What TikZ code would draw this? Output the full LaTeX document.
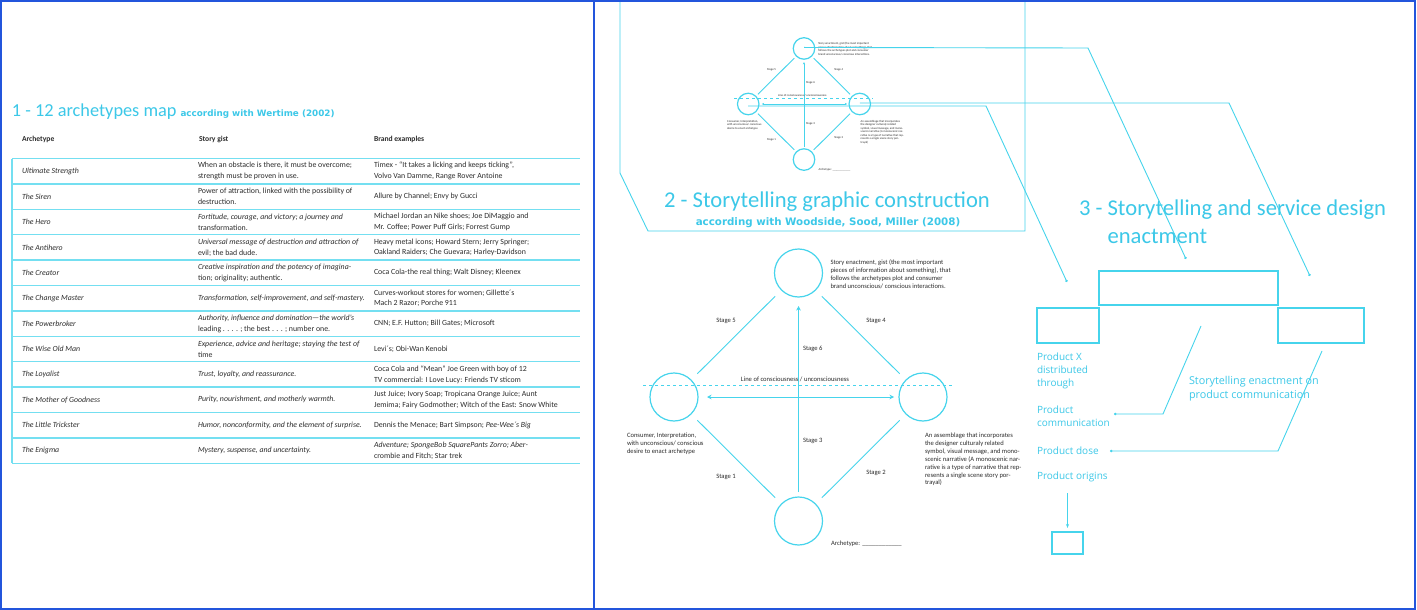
\documentclass[tikz,border=0pt]{standalone}
\usepackage{fontspec}
\setmainfont{Carlito}
\newfontfamily\titlefont{Carlito}
\newfontfamily\boldfont{DejaVu Sans}
\newfontfamily\prodfont{Open Sans}
\usetikzlibrary{arrows.meta,calc}
\definecolor{cy}{RGB}{70,212,236}
\definecolor{tcy}{RGB}{60,200,232}
\definecolor{frameblue}{RGB}{35,85,220}
\definecolor{ink}{RGB}{45,45,45}
\tikzset{
  every node/.style={inner sep=0pt, outer sep=0pt},
  tline/.style={draw=cy!75, line width=1.3pt},
  cline/.style={draw=cy, line width=0.9pt},
  circ/.style={circle, draw=cy, line width=1.2pt, minimum size=48pt},
  boxst/.style={draw=cy, line width=1.2pt, rectangle},
  cell/.style={font=\fontsize{7.85}{10.8}\selectfont, text=ink, align=left},
  hdr/.style={font=\bfseries\fontsize{7.6}{9}\selectfont, text=ink},
  lab/.style={font=\fontsize{6.6}{7.9}\selectfont, text=ink},
  ttl/.style={font=\titlefont\fontsize{22.6}{28}\selectfont, text=tcy},
  sub/.style={font=\boldfont\bfseries, text=tcy},
  prod/.style={font=\prodfont\fontsize{10}{13}\selectfont, text=tcy, align=left},
  dotend/.style={-{Circle[length=2.4pt]}},
}
\newcommand\trow[6]{%
  \node[cell, anchor=west] (a#1) at (22,#2) {\itshape #3};
  \node[cell, anchor=west] (g#1) at (198,#2) {#6#4};
  \node[cell, anchor=west] (b#1) at (374,#2) {#5};
}
\newcommand\stdiag[4]{%
  \node[circ] (#1t) at (0,-124) {};
  \node[circ] (#1b) at (0,124) {};
  \node[circ] (#1l) at (-124.5,0) {};
  \node[circ] (#1r) at (124.5,0) {};
  \coordinate (#1da) at (-155.5,-12);
  \coordinate (#1db) at (154.5,-12);
  \draw[cline, dash pattern=on 3pt off 3pt] (#1da) -- (#1db);
  \draw[cline, shorten <=#2, shorten >=#2] (#1l) -- (#1t);
  \draw[cline, shorten <=#2, shorten >=#2] (#1r) -- (#1t);
  \draw[cline, shorten <=#2, shorten >=#2] (#1b) -- (#1l);
  \draw[cline, shorten <=#2, shorten >=#2] (#1b) -- (#1r);
  \draw[cline, -{Stealth[length=#3,width=#3]}, shorten <=#4, shorten >=#2] (#1b) -- (#1t);
  \draw[cline, {Stealth[length=#3,width=#3]}-{Stealth[length=#3,width=#3]}, shorten <=#2, shorten >=#4] (#1l) -- (#1r);
  \node[lab] (#1s5) at (-72.5,-76) {Stage 5};
  \node[lab] (#1s4) at (77.5,-76) {Stage 4};
  \node[lab, anchor=west] (#1s6) at (4.5,-48) {Stage 6};
  \node[lab, anchor=west] (#1s3) at (4.5,44) {Stage 3};
  \node[lab] (#1s1) at (-72.5,80) {Stage 1};
  \node[lab] (#1s2) at (77.5,76) {Stage 2};
  \node[lab] (#1lc) at (-3.5,-18) {Line of consciousness / unconsciousness};
  \node[lab, anchor=north west, align=left] (#1tt) at (32,-137.5) {Story enactment, gist (the most important\\pieces of information about something), that\\follows the archetypes plot and consumer\\brand unconscious/ conscious interactions.};
  \node[lab, anchor=north west, align=left] (#1lt) at (-171.5,36) {Consumer, Interpretation,\\with unconscious/ conscious\\desire to enact archetype};
  \node[lab, anchor=north west, align=left] (#1rt) at (126.5,36) {An assemblage that incorporates\\the designer culturaly related\\symbol, visual message, and mono-\\scenic narrative (A monoscenic nar-\\rative is a type of narrative that rep-\\resents a single scene story por-\\trayal)};
  \node[lab, anchor=west] (#1ar) at (32.5,147) {Archetype: \_\_\_\_\_\_\_\_\_\_\_\_};
}
\begin{document}
\begin{tikzpicture}[x=1pt,y=-1pt]
\useasboundingbox (0,0) rectangle (1417,610);
\fill[white] (0,0) rectangle (1417,610);

% ---------- Panel 1 ----------
\node[ttl, font=\titlefont\fontsize{18.3}{22}\selectfont, anchor=base west] (t1) at (12,117) {1 - 12 archetypes map};
\node[sub, font=\boldfont\bfseries\fontsize{8.8}{10}\selectfont, anchor=base west] (t1b) at ([xshift=4pt]t1.base east) {according with Wertime (2002)};

\node[hdr, anchor=west] (h1) at (22,139) {Archetype};
\node[hdr, anchor=west] (h2) at (199,139) {Story gist};
\node[hdr, anchor=west] (h3) at (374,139) {Brand examples};

\foreach \k in {0,...,12} {\draw[tline] (12,{158.5+\k*25.4}) -- (580,{158.5+\k*25.4});}
\draw[tline] (12,158.5) -- (12,463.3);

\trow{1}{171.2}{Ultimate Strength}{When an obstacle is there, it must be overcome;\\strength must be proven in use.}{Timex - “It takes a licking and keeps ticking”,\\Volvo Van Damme, Range Rover Antoine}{}
\trow{2}{196.6}{The Siren}{Power of attraction, linked with the possibility of\\destruction.}{Allure by Channel; Envy by Gucci}{}
\trow{3}{222.0}{The Hero}{Fortitude, courage, and victory; a journey and\\transformation.}{Michael Jordan an Nike shoes; Joe DiMaggio and\\Mr. Coffee; Power Puff Girls; Forrest Gump}{\itshape}
\trow{4}{247.4}{The Antihero}{Universal message of destruction and attraction of\\evil; the bad dude.}{Heavy metal icons; Howard Stern; Jerry Springer;\\Oakland Raiders; Che Guevara; Harley-Davidson}{\itshape}
\trow{5}{272.8}{The Creator}{Creative inspiration and the potency of imagina-\\tion; originality; authentic.}{Coca Cola-the real thing; Walt Disney; Kleenex}{\itshape}
\trow{6}{298.2}{The Change Master}{Transformation, self-improvement, and self-mastery.}{Curves-workout stores for women; Gillette´s\\Mach 2 Razor; Porche 911}{\itshape}
\trow{7}{323.6}{The Powerbroker}{Authority, influence and domination—the world's\\leading . . . . ; the best . . . ; number one.}{CNN; E.F. Hutton; Bill Gates; Microsoft}{\itshape}
\trow{8}{349.0}{The Wise Old Man}{Experience, advice and heritage; staying the test of\\time}{Levi´s; Obi-Wan Kenobi}{\itshape}
\trow{9}{374.4}{The Loyalist}{Trust, loyalty, and reassurance.}{Coca Cola and “Mean” Joe Green with boy of 12\\TV commercial: I Love Lucy: Friends TV sticom}{\itshape}
\trow{10}{399.8}{The Mother of Goodness}{Purity, nourishment, and motherly warmth.}{Just Juice; Ivory Soap; Tropicana Orange Juice; Aunt\\Jemima; Fairy Godmother; Witch of the East: Snow White}{\itshape}
\trow{11}{425.2}{The Little Trickster}{Humor, nonconformity, and the element of surprise.}{Dennis the Menace; Bart Simpson; \emph{Pee-Wee´s Big}}{\itshape}
\trow{12}{450.6}{The Enigma}{Mystery, suspense, and uncertainty.}{\itshape Adventure; SpongeBob SquarePants Zorro; Aber-\\\upshape crombie and Fitch; Star trek}{\itshape}

% ---------- Panel 2 ----------
\draw[cline] (620,2) -- (620,173) -- (648,231) -- (1025,231) -- (1025,2);

\begin{scope}[shift={(804,104)}, scale=0.448, transform shape]
  \stdiag{s}{3pt}{2.2pt}{2pt}
\end{scope}
\begin{scope}[shift={(798.5,397)}]
  \stdiag{m}{9pt}{4.5pt}{5pt}
\end{scope}

\node[ttl, anchor=base] (t2) at (827,207) {2 - Storytelling graphic construction};
\node[sub, font=\boldfont\bfseries\fontsize{10.3}{11}\selectfont, anchor=base] (t2b) at (828,225) {according with Woodside, Sood, Miller (2008)};

% ---------- Panel 3 ----------
\node[ttl, anchor=base west, align=left] (t3) at (1079,243) {3 - Storytelling and service design\\\phantom{3 - }enactment};

\node[boxst, minimum width=179pt, minimum height=34pt] (bigbox) at (1188.5,288) {};
\node[boxst, minimum width=62pt, minimum height=35pt] (lbox) at (1068,325.5) {};
\node[boxst, minimum width=86pt, minimum height=35pt] (rbox) at (1321,325.5) {};
\node[boxst, minimum width=31pt, minimum height=22pt] (sbox) at (1067.5,543) {};

\node[prod, anchor=north west] (px) at (1037,352.5) {Product X\\distributed\\through};
\node[prod, anchor=north west] (pc) at (1037,405.5) {Product\\communication};
\node[prod, anchor=west] (pd) at (1037,451) {Product dose};
\node[prod, anchor=west] (po) at (1037,477) {Product origins};
\node[prod, font=\prodfont\fontsize{10.8}{14}\selectfont, anchor=north west] (se) at (1189,376) {Storytelling enactment on\\product communication};

% connectors from the small diagram
\coordinate (k1a) at (1088,48);
\coordinate (k1b) at (1186,259);
\coordinate (k2a) at (1229,103);
\coordinate (k2b) at (1310,276);
\coordinate (k3a) at (986,106);
\coordinate (k3b) at (1067,282);
\draw[cline, dotend] ([yshift=1pt]st.center) -- (k1a) -- (k1b);
\draw[cline, dotend] ([yshift=1pt]sr.center) -- (k2a) -- (k2b);
\draw[cline, dotend] ([yshift=-2pt]sl.center) -- (k3a) -- (k3b);

% section 3 connectors
\coordinate (k4a) at (1201,326);
\coordinate (k4m) at (1163,414);
\coordinate (k4b) at (1114,414);
\coordinate (k5a) at (1322,351);
\coordinate (k5m) at (1278,451);
\coordinate (k5b) at (1110,451);
\coordinate (k6a) at (1067.5,493);
\draw[cline, dotend] (k4a) -- (k4m) -- (k4b);
\draw[cline, dotend] (k5a) -- (k5m) -- (k5b);
\draw[cline, -{Stealth[length=4pt,width=3pt]}, shorten >=4pt] (k6a) -- (sbox.north);

% ---------- frame ----------
\draw[frameblue, line width=2.4pt] (1.2,1.2) rectangle (1414.8,608.8);
\draw[frameblue, line width=2.4pt] (593.8,0) -- (593.8,610);
\end{tikzpicture}
\end{document}
